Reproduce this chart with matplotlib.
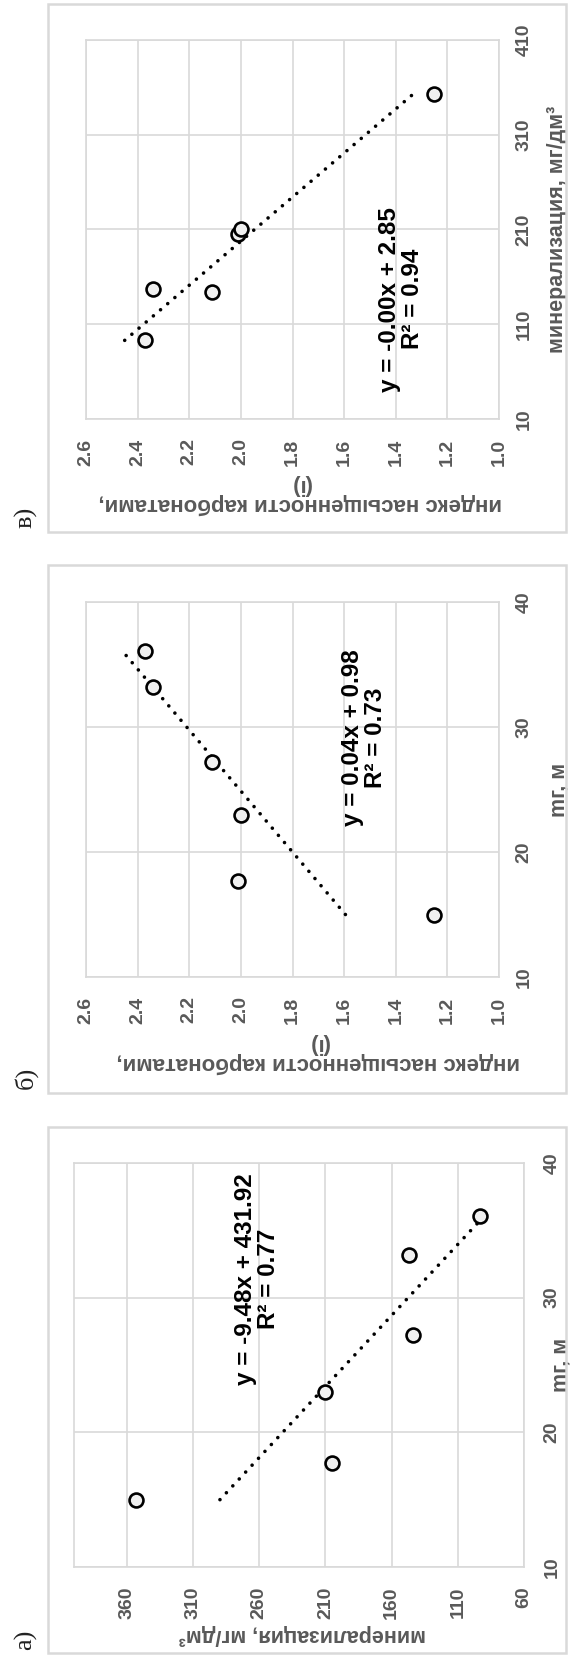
import numpy as np
import matplotlib
matplotlib.use("Agg")
import matplotlib.pyplot as plt
from matplotlib.patches import Rectangle

plt.rcParams['font.family'] = ['Liberation Sans', 'DejaVu Sans']

# Six wells: thickness, mineralization and carbonate saturation index
thickness = [15.0, 17.7, 23.0, 27.2, 33.2, 36.1]          # mг, м
mineralization = [353, 205, 210, 144, 147, 93]             # мг/дм³
saturation = [1.25, 2.01, 2.00, 2.11, 2.34, 2.37]          # индекс (i)

# Linear trend coefficients (slope, intercept) and R² for each panel
trend_a = (-9.48, 431.92)
trend_b = (0.041, 0.98)
trend_c = (-0.0043, 2.85)
r2_a, r2_b, r2_c = 0.77, 0.73, 0.94

ticks_mg = [10, 20, 30, 40]
ticks_mineral_a = [60, 110, 160, 210, 260, 310, 360]
ticks_index = [1.0, 1.2, 1.4, 1.6, 1.8, 2.0, 2.2, 2.4, 2.6]
ticks_mineral_c = [10, 110, 210, 310, 410]

label_mg = "mг, м"
label_mineral = "минерализация, мг/дм³"
label_index = "индекс насыщенности карбонатами,\n(i)"

W, H = 570, 1666
fig = plt.figure(figsize=(W / 100, H / 100), dpi=100)

GRID = "#d9d9d9"
TXT = "#595959"


def rect(l, t, r, b):
    return [l / W, 1 - b / H, (r - l) / W, (b - t) / H]


def frame(t, b, letter, ly):
    fig.patches.append(Rectangle((48 / W, 1 - b / H), (566 - 48) / W, (b - t) / H,
                                 transform=fig.transFigure, fill=False,
                                 edgecolor=GRID, lw=1.8, zorder=0))
    fig.text(26 / W, 1 - ly / H, letter, rotation=90, ha='center', va='center',
             family=['Liberation Serif', 'DejaVu Serif'], fontsize=19,
             color='#222222')


def panel(box, hvals, vvals, hlim, vlim, hticks, vticks, hfmt, vfmt,
          hlabel, vlabel, hlabel_xy, hlabel_size, vlabel_x, rpad,
          trend, r2, text_at, vrange):
    l, t, r, b = box
    ax = fig.add_axes(rect(*box))
    ax.set_xlim(*hlim)
    ax.set_ylim(*vlim)
    ax.set_xticks(hticks)
    ax.set_yticks(vticks)
    ax.set_xticklabels([hfmt.format(v) for v in hticks], rotation=90)
    ax.set_yticklabels([vfmt.format(v) for v in vticks], rotation=90, va='center')
    ax.yaxis.tick_right()
    ax.tick_params(length=0, labelsize=14, labelcolor=TXT)
    for lab in ax.get_xticklabels() + ax.get_yticklabels():
        lab.set_fontweight('bold')
    ax.tick_params(axis='x', pad=14)
    ax.tick_params(axis='y', pad=rpad)
    ax.grid(True, color=GRID, lw=1.2)
    ax.set_axisbelow(True)
    for s in ax.spines.values():
        s.set_color(GRID)
        s.set_linewidth(1.2)

    ax.set_xlabel(hlabel, rotation=180, fontsize=hlabel_size, color=TXT,
                  fontweight='bold', linespacing=0.88)
    ax.xaxis.label.set_va('center')
    ax.xaxis.label.set_ha('center')
    ax.xaxis.set_label_coords((hlabel_xy[0] - l) / (r - l),
                              (b - hlabel_xy[1]) / (b - t))
    ax.set_ylabel(vlabel, rotation=90, fontsize=15.5, color=TXT,
                  fontweight='bold')
    ax.yaxis.set_label_position('right')
    ax.yaxis.label.set_va('center')
    ax.yaxis.label.set_ha('center')
    ax.yaxis.set_label_coords((vlabel_x - l) / (r - l), 0.5)

    # trend line: the vertical axis carries the predictor
    slope, icpt = trend
    xs = np.array(vrange)
    ys = slope * xs + icpt
    ax.plot(ys, xs, color='black', lw=2.6, linestyle=(0, (0.01, 2.6)),
            dash_capstyle='round', zorder=3)
    ax.plot(hvals, vvals, 'o', ms=10, mfc='#f0f0f0', mec='black', mew=1.9,
            zorder=4)
    sign = '+' if icpt >= 0 else '-'
    ax.text(text_at[0], text_at[1],
            f"y = {slope:.2f}x {sign} {abs(icpt):.2f}\nR² = {r2:.2f}",
            rotation=90, ha='center', va='center', multialignment='center',
            fontsize=17.5, fontweight='bold', color='black', linespacing=1.0)
    return ax


# в) saturation vs mineralization (top)
frame(4, 532, "в)", 517)
panel((86, 40, 499, 419), saturation, mineralization, (2.6, 1.0), (10, 410),
      ticks_index, ticks_mineral_c, "{:.1f}", "{:d}", label_index, label_mineral,
      (300, 494), 16, 557, 12,
      trend_c, r2_c, (1.38, 136.5), (min(mineralization), max(mineralization)))

# б) saturation vs thickness (middle)
frame(565, 1093, "б)", 1078)
panel((86, 602, 499, 977), saturation, thickness, (2.6, 1.0), (10, 40),
      ticks_index, ticks_mg, "{:.1f}", "{:d}", label_index, label_mg,
      (318, 1053), 16, 559, 12,
      trend_b, r2_b, (1.524, 29.15), (min(thickness), max(thickness)))

# а) mineralization vs thickness (bottom)
frame(1127, 1653, "а)", 1640)
panel((74, 1163, 524, 1567), mineralization, thickness, (400, 60), (10, 40),
      ticks_mineral_a, ticks_mg, "{:d}", "{:d}", label_mineral, label_mg,
      (302, 1635), 15.5, 561, 14,
      trend_a, r2_a, (262, 31.4), (min(thickness), max(thickness)))

fig.savefig("out.png", dpi=100, facecolor='white')
